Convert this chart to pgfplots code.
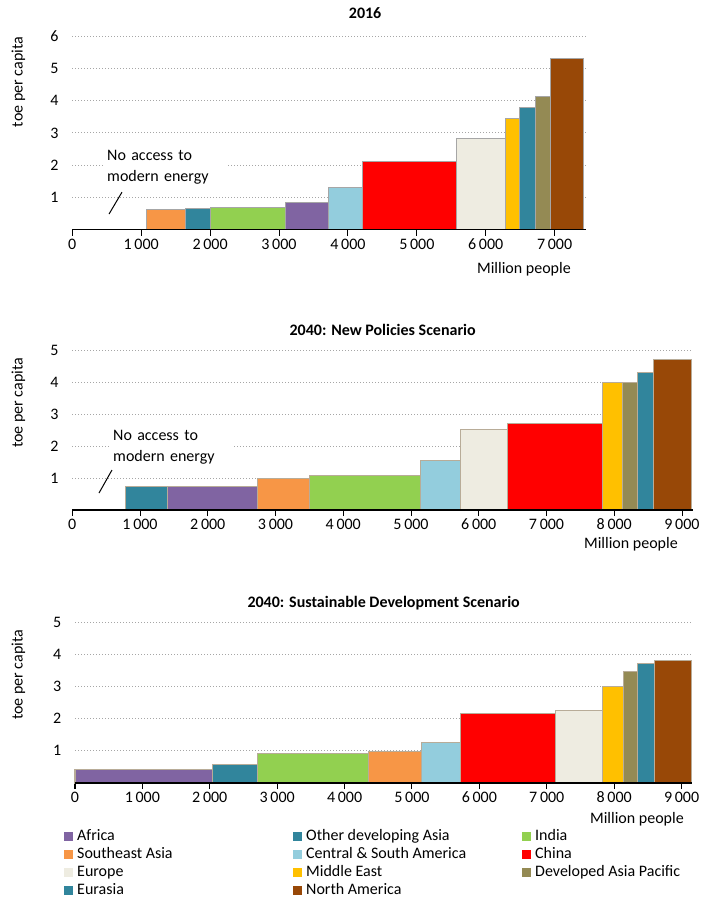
\documentclass[border=0pt]{standalone}
\usepackage{fontspec}
\setmainfont{Carlito}
\usepackage{pgfplots}
\pgfplotsset{compat=1.18}

\definecolor{africa}{HTML}{8064A2}
\definecolor{oda}{HTML}{31859C}
\definecolor{india}{HTML}{92D050}
\definecolor{sea}{HTML}{F79646}
\definecolor{csa}{HTML}{93CDDD}
\definecolor{china}{HTML}{FF0000}
\definecolor{europe}{HTML}{EEECE1}
\definecolor{me}{HTML}{FFC000}
\definecolor{dap}{HTML}{948A54}
\definecolor{eurasia}{HTML}{31859C}
\definecolor{na}{HTML}{984807}
\definecolor{edgeA}{HTML}{A6A6A6}
\definecolor{edgeB}{HTML}{B8AC98}

\newcommand{\fs}{\fontsize{16}{19}\selectfont}
% region bar: colour, left edge, right edge, height
\newcommand{\rb}[4]{\addplot[regbar, fill=#1] coordinates {(#2,0) (#2,#4) (#3,#4) (#3,0)} \closedcycle;}

\pgfplotsset{
  panel/.style={
    scale only axis, clip=false, enlargelimits=false, ymin=0, xmin=0,
    axis x line*=bottom, axis y line*=left,
    x axis line style={draw=none}, y axis line style={draw=none},
    ytick style={draw=none},
    xtick align=outside,
    xtick style={black, line width=1pt},
    major tick length=6pt,
    ymajorgrids,
    grid style={gray!70, line width=0.9pt, dash pattern=on 0.9pt off 2.1pt},
    tick label style={font=\fs, black},
    xticklabel style={anchor=base, inner sep=0pt, yshift=-13.5pt},
    yticklabel style={anchor=east, inner sep=0pt, xshift=-13.6pt},
    title style={font=\bfseries\fs, anchor=base, inner sep=0pt},
    xlabel={Million people}, ylabel={toe per capita},
    label style={font=\fs, black},
    xlabel style={at={(axis description cs:1,0)}, anchor=base east, inner sep=0pt},
    ylabel style={anchor=center, inner sep=0pt},
    regbar/.style={draw=edgeA, line width=1pt, forget plot},
    axisline/.style={black, line width=1.2pt, forget plot},
    slash/.style={black, line width=1pt, forget plot},
  },
  every axis legend/.style={},
}

\begin{document}
\begin{tikzpicture}
\path[use as bounding box] (0pt,0pt) rectangle (703pt,-900pt);

% ---------- 2016 ----------
\begin{axis}[panel,
  at={(72.3pt,-229.5pt)}, anchor=south west,
  width=513.7pt, height=193.2pt,
  xmax=7455, ymax=6,
  xtick={0,1000,2000,3000,4000,5000,6000,7000},
  xticklabels={0,{1\,000},{2\,000},{3\,000},{4\,000},{5\,000},{6\,000},{7\,000}},
  ytick={1,2,3,4,5,6}, yticklabels={1,2,3,4,5,6},
  title={2016},
  title style={at={(axis description cs:0.570,1)}, yshift=11.5pt},
  xlabel style={xshift=-15pt, yshift=-44pt},
  ylabel style={at={(axis description cs:-0.1051,0.763)}},
  regbar/.append style={draw=edgeA},
]
\rb{sea}{1070}{1640}{0.62}
\rb{oda}{1640}{2003}{0.66}
\rb{india}{2003}{3097}{0.69}
\rb{africa}{3097}{3721}{0.83}
\rb{csa}{3721}{4210}{1.29}
\rb{china}{4210}{5582}{2.10}
\rb{europe}{5582}{6280}{2.84}
\rb{me}{6280}{6488}{3.45}
\rb{eurasia}{6488}{6720}{3.78}
\rb{dap}{6720}{6933}{4.14}
\rb{na}{6933}{7417}{5.32}
\addplot[axisline] coordinates {(0,0) (7455,0)};
\addplot[slash] coordinates {(533,0.48) (721,1.16)};
\node[anchor=west, fill=white, align=left, font=\fontsize{16}{21}\selectfont,
      inner xsep=4pt, inner ysep=2pt, text width=117pt]
  at (axis cs:446,1.93) {No access to\\modern energy};
\end{axis}

% ---------- 2040 NPS ----------
\begin{axis}[panel,
  at={(72.3pt,-510pt)}, anchor=south west,
  width=620.7pt, height=160pt,
  xmax=9162, ymax=5,
  xtick={0,1000,2000,3000,4000,5000,6000,7000,8000,9000},
  xticklabels={0,{1\,000},{2\,000},{3\,000},{4\,000},{5\,000},{6\,000},{7\,000},{8\,000},{9\,000}},
  ytick={1,2,3,4,5}, yticklabels={1,2,3,4,5},
  title={2040: New Policies Scenario},
  title style={at={(axis description cs:0.5,1)}, yshift=8.1pt},
  xlabel style={xshift=-15pt, yshift=-38pt},
  ylabel style={at={(axis description cs:-0.0870,0.669)}},
  regbar/.append style={draw=edgeB},
]
\rb{oda}{778}{1398}{0.73}
\rb{africa}{1398}{2736}{0.73}
\rb{sea}{2736}{3498}{0.97}
\rb{india}{3498}{5136}{1.09}
\rb{csa}{5136}{5725}{1.54}
\rb{europe}{5725}{6420}{2.53}
\rb{china}{6420}{7823}{2.69}
\rb{me}{7823}{8128}{3.98}
\rb{dap}{8128}{8340}{3.98}
\rb{eurasia}{8340}{8582}{4.31}
\rb{na}{8582}{9147}{4.69}
\addplot[axisline] coordinates {(0,0) (9162,0)};
\addplot[slash] coordinates {(394,0.53) (586,1.25)};
\node[anchor=west, fill=white, align=left, font=\fontsize{16}{21}\selectfont,
      inner xsep=4pt, inner ysep=2pt, text width=115pt]
  at (axis cs:542,1.97) {No access to\\modern energy};
\end{axis}

% ---------- 2040 SDS ----------
\begin{axis}[panel,
  at={(75pt,-783pt)}, anchor=south west,
  width=617.3pt, height=161pt,
  xmax=9159, ymax=5,
  xtick={0,1000,2000,3000,4000,5000,6000,7000,8000,9000},
  xticklabels={0,{1\,000},{2\,000},{3\,000},{4\,000},{5\,000},{6\,000},{7\,000},{8\,000},{9\,000}},
  ytick={1,2,3,4,5}, yticklabels={1,2,3,4,5},
  title={2040: Sustainable Development Scenario},
  title style={at={(axis description cs:0.5,1)}, yshift=8.2pt},
  xlabel style={xshift=-8.3pt, yshift=-40pt},
  ylabel style={at={(axis description cs:-0.0918,0.671)}},
  regbar/.append style={draw=edgeB},
  legend columns=3,
  legend cell align=left,
  legend style={at={(axis description cs:-0.01782,-0.2733)}, anchor=north west,
    draw=none, fill=none, inner sep=0pt, column sep=4pt, row sep=0pt,
    font=\fs, text=black,
    nodes={inner xsep=0pt, inner ysep=1pt, text height=12pt, text depth=4pt}},
  legend image code/.code={\fill[#1] (0pt,-4.5pt) rectangle (9pt,4.5pt);},
]
\rb{africa}{0}{2043}{0.41}
\rb{oda}{2043}{2715}{0.58}
\rb{india}{2715}{4350}{0.91}
\rb{sea}{4350}{5134}{0.99}
\rb{csa}{5134}{5727}{1.27}
\rb{china}{5727}{7122}{2.17}
\rb{europe}{7122}{7829}{2.25}
\rb{me}{7829}{8136}{2.99}
\rb{dap}{8136}{8350}{3.46}
\rb{eurasia}{8350}{8591}{3.71}
\rb{na}{8591}{9150}{3.79}
\addplot[axisline] coordinates {(0,0) (9159,0)};
\addlegendimage{fill=africa, draw=none}
\addlegendentry{\makebox[212pt][l]{Africa}}
\addlegendimage{fill=oda, draw=none}
\addlegendentry{\makebox[212pt][l]{Other developing Asia}}
\addlegendimage{fill=india, draw=none}
\addlegendentry{India}
\addlegendimage{fill=sea, draw=none}
\addlegendentry{\makebox[212pt][l]{Southeast Asia}}
\addlegendimage{fill=csa, draw=none}
\addlegendentry{\makebox[212pt][l]{Central \& South America}}
\addlegendimage{fill=china, draw=none}
\addlegendentry{China}
\addlegendimage{fill=europe, draw=none}
\addlegendentry{\makebox[212pt][l]{Europe}}
\addlegendimage{fill=me, draw=none}
\addlegendentry{\makebox[212pt][l]{Middle East}}
\addlegendimage{fill=dap, draw=none}
\addlegendentry{Developed Asia Pacific}
\addlegendimage{fill=eurasia, draw=none}
\addlegendentry{\makebox[212pt][l]{Eurasia}}
\addlegendimage{fill=na, draw=none}
\addlegendentry{\makebox[212pt][l]{North America}}
\end{axis}
\end{tikzpicture}
\end{document}
